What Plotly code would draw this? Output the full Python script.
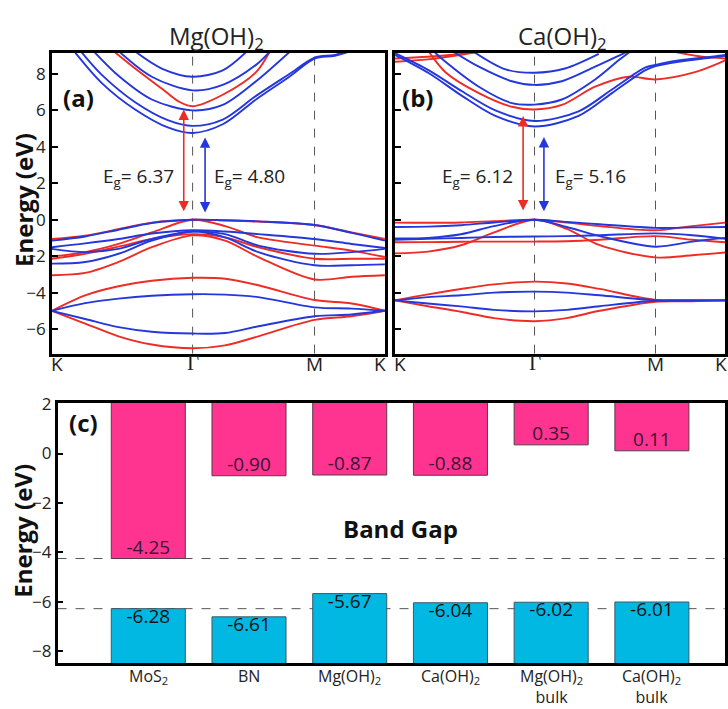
import plotly.graph_objects as go

W, H = 728, 709

# ---------------- data ----------------
# k-path K - Gamma - M - K (fractional path length)
K_PATH_VALS = [0.0, 0.4226, 0.7887, 1.0]
K_PATH_TEXT = ["K", "Γ", "M", "K"]
KPTS = [0.0, 0.1, 0.2, 0.3, 0.4226, 0.52, 0.62, 0.7887, 0.9, 1.0]

# Panel (a) Mg(OH)2 : valence + low bands (sampled on KPTS)
A_RED_VB = [
    [-1.06, -0.88, -0.52, -0.16, 0.00, -0.04, -0.10, -0.29, -0.70, -1.06],
    [-2.02, -1.78, -1.33, -0.70, 0.00, -0.35, -0.97, -1.42, -1.70, -2.05],
    [-2.14, -1.87, -1.48, -1.06, -0.79, -0.97, -1.51, -2.14, -2.14, -2.14],
    [-3.05, -2.92, -2.32, -1.51, -0.86, -1.15, -2.05, -3.28, -3.13, -3.05],
    [-5.00, -4.15, -3.65, -3.35, -3.19, -3.24, -3.60, -4.41, -4.60, -5.00],
    [-5.00, -5.70, -6.40, -6.85, -7.06, -6.90, -6.40, -5.50, -5.30, -5.00],
]
A_BLUE_VB = [
    [-1.15, -0.92, -0.55, -0.18, 0.00, -0.03, -0.09, -0.29, -0.72, -1.15],
    [-1.51, -1.30, -1.06, -0.76, -0.58, -0.65, -0.79, -1.06, -1.33, -1.55],
    [-1.60, -1.78, -1.60, -1.06, -0.65, -0.79, -1.42, -1.87, -1.78, -1.60],
    [-2.41, -2.32, -1.87, -1.15, -0.65, -0.97, -1.78, -2.50, -2.50, -2.45],
    [-5.00, -4.58, -4.33, -4.17, -4.09, -4.11, -4.25, -4.81, -4.88, -5.00],
    [-5.00, -5.45, -5.90, -6.15, -6.25, -6.22, -5.85, -5.30, -5.20, -5.00],
]
# Panel (a) conduction bands (own k samples)
A_BLUE_CB_K = [
    [0.069, 0.15, 0.25, 0.35, 0.4226, 0.513, 0.613, 0.713, 0.7887, 0.85, 0.92],
    [0.089, 0.15, 0.25, 0.35, 0.4226, 0.513, 0.613, 0.713, 0.7887, 0.85, 0.92],
    [0.128, 0.2, 0.3, 0.4226, 0.513, 0.613, 0.713],
    [0.204, 0.3, 0.4226, 0.513, 0.613, 0.653],
    [0.253, 0.33, 0.4226, 0.513, 0.583],
]
A_BLUE_CB_E = [
    [9.2, 7.5, 6.05, 5.05, 4.76, 5.24, 6.6, 7.85, 8.85, 9.0, 9.4],
    [9.2, 7.95, 6.45, 5.45, 5.15, 5.5, 6.8, 8.0, 8.9, 9.05, 9.45],
    [9.2, 7.9, 6.6, 6.0, 6.3, 7.6, 9.2],
    [9.2, 7.85, 7.1, 7.4, 8.5, 9.2],
    [9.2, 8.3, 7.85, 8.2, 9.2],
]
A_RED_CB_K = [[0.189, 0.25, 0.33, 0.38, 0.4226, 0.513, 0.613, 0.653]]
A_RED_CB_E = [[9.2, 8.3, 7.2, 6.5, 6.23, 6.86, 8.1, 9.2]]

# Panel (b) Ca(OH)2 : valence + low bands (sampled on KPTS)
B_RED_VB = [
    [-0.16, -0.17, -0.15, -0.08, 0.00, -0.15, -0.35, -0.58, -0.35, -0.16],
    [-1.24, -1.23, -1.21, -1.20, -1.20, -1.18, -1.10, -0.90, -1.10, -1.24],
    [-1.85, -1.75, -1.40, -0.70, 0.00, -0.50, -1.40, -2.07, -1.95, -1.80],
    [-4.43, -4.10, -3.80, -3.55, -3.40, -3.50, -3.80, -4.40, -4.42, -4.43],
    [-4.43, -4.75, -5.05, -5.40, -5.57, -5.40, -5.00, -4.50, -4.48, -4.43],
]
B_BLUE_VB = [
    [-0.40, -0.38, -0.30, -0.15, 0.00, -0.12, -0.25, -0.45, -0.42, -0.40],
    [-1.03, -1.00, -0.80, -0.35, 0.00, -0.40, -0.90, -1.48, -1.20, -1.00],
    [-1.10, -1.05, -1.00, -0.95, -0.92, -0.90, -0.85, -0.75, -0.85, -1.05],
    [-4.43, -4.25, -4.15, -4.00, -3.95, -4.00, -4.15, -4.42, -4.43, -4.43],
    [-4.43, -4.60, -4.76, -4.95, -5.03, -4.95, -4.75, -4.45, -4.44, -4.43],
]
B_BLUE_CB_K = [
    [0.0, 0.103, 0.203, 0.304, 0.4226, 0.556, 0.657, 0.757, 0.7887, 0.858, 0.958, 1.0],
    [0.0, 0.103, 0.203, 0.304, 0.4226, 0.556, 0.657, 0.757, 0.7887, 0.858, 0.958, 1.0],
    [0.12, 0.153, 0.254, 0.354, 0.4226, 0.505, 0.606, 0.677, 0.71],
    [0.17, 0.254, 0.354, 0.4226, 0.505, 0.606, 0.677, 0.70],
    [0.24, 0.335, 0.4226, 0.515, 0.617],
]
B_BLUE_CB_E = [
    [9.05, 8.04, 6.8, 5.7, 5.12, 5.7, 6.95, 8.2, 8.43, 8.67, 8.9, 9.0],
    [9.15, 8.2, 7.05, 6.0, 5.42, 5.95, 7.15, 8.35, 8.5, 8.75, 8.95, 9.05],
    [9.2, 8.67, 7.3, 6.4, 6.32, 6.6, 7.7, 8.75, 9.2],
    [9.3, 8.4, 7.6, 7.4, 7.6, 8.4, 9.0, 9.2],
    [9.2, 8.25, 8.07, 8.3, 9.1],
]
B_RED_CB_K = [
    [0.1, 0.153, 0.254, 0.354, 0.4226, 0.505, 0.606, 0.707, 0.7887, 0.908, 1.0],
    [0.0, 0.1, 0.2, 0.3],
    [0.0, 0.1, 0.2, 0.25],
    [0.85, 0.93, 1.0],
]
B_RED_CB_E = [
    [9.3, 8.1, 6.95, 6.2, 6.05, 6.3, 7.3, 7.85, 7.7, 8.1, 8.75],
    [8.85, 8.95, 9.1, 9.3],
    [8.67, 8.8, 9.05, 9.2],
    [9.2, 8.95, 8.85],
]

GAP_A = ["6.37", "4.80"]
GAP_B = ["6.12", "5.16"]

# Panel (c) band edges
CATEGORIES = ["MoS<sub>2</sub>", "BN", "Mg(OH)<sub>2</sub>", "Ca(OH)<sub>2</sub>",
              "Mg(OH)<sub>2</sub><br>bulk", "Ca(OH)<sub>2</sub><br>bulk"]
CBM = [-4.25, -0.90, -0.87, -0.88, 0.35, 0.11]
VBM = [-6.28, -6.61, -5.67, -6.04, -6.02, -6.01]

# ---------------- style ----------------
RED = "#EE2B24"
BLUE = "#2437DC"
PINK = "#FF3390"
CYAN = "#00B8E2"
FONT = "Open Sans"
SERIF = "Liberation Serif"
TXT = "#222222"


def PX(x):
    return x / W


def PY(y):
    return 1 - y / H


fig = go.Figure()


def add_band(k, e, color, xa, ya):
    fig.add_trace(go.Scatter(
        x=k, y=e, mode="lines",
        line=dict(color=color, width=1.9, shape="spline", smoothing=0.9),
        xaxis=xa, yaxis=ya, hoverinfo="skip", showlegend=False))


# panel a
for e in A_RED_VB:
    add_band(KPTS, e, RED, "x", "y")
for k, e in zip(A_RED_CB_K, A_RED_CB_E):
    add_band(k, e, RED, "x", "y")
for e in A_BLUE_VB:
    add_band(KPTS, e, BLUE, "x", "y")
for k, e in zip(A_BLUE_CB_K, A_BLUE_CB_E):
    add_band(k, e, BLUE, "x", "y")
# panel b
for e in B_RED_VB:
    add_band(KPTS, e, RED, "x2", "y2")
for k, e in zip(B_RED_CB_K, B_RED_CB_E):
    add_band(k, e, RED, "x2", "y2")
for e in B_BLUE_VB:
    add_band(KPTS, e, BLUE, "x2", "y2")
for k, e in zip(B_BLUE_CB_K, B_BLUE_CB_E):
    add_band(k, e, BLUE, "x2", "y2")

# panel c bars
idx = list(range(len(CATEGORIES)))
BAR_TOP, BAR_BOTTOM = 3.0, -10.0
fig.add_trace(go.Bar(
    x=idx, y=[BAR_TOP - c for c in CBM], base=CBM, width=0.735,
    marker=dict(color=PINK, line=dict(color="#5a3a48", width=1)),
    xaxis="x3", yaxis="y3", hoverinfo="skip", showlegend=False))
fig.add_trace(go.Bar(
    x=idx, y=[v - BAR_BOTTOM for v in VBM], base=[BAR_BOTTOM] * len(VBM), width=0.735,
    marker=dict(color=CYAN, line=dict(color="#3a5a66", width=1)),
    xaxis="x3", yaxis="y3", hoverinfo="skip", showlegend=False))
fig.add_trace(go.Scatter(
    x=idx, y=CBM, mode="text", text=[f"{v:.2f}" for v in CBM],
    textposition="top center", textfont=dict(family=FONT, size=19, color="#3a1530"),
    xaxis="x3", yaxis="y3", hoverinfo="skip", showlegend=False))
fig.add_trace(go.Scatter(
    x=idx, y=VBM, mode="text", text=[f"{v:.2f}" for v in VBM],
    textposition="bottom center", textfont=dict(family=FONT, size=19, color="#111111"),
    xaxis="x3", yaxis="y3", hoverinfo="skip", showlegend=False))

# ---------------- axes ----------------
A_X = [PX(52), PX(386)]
B_X = [PX(396), PX(727.3)]
AB_Y = [PY(348), PY(42.7)]
C_X = [PX(57.7), PX(726.7)]
C_Y = [PY(662.3), PY(398.3)]

frame = dict(showline=True, mirror=True, linecolor="black", linewidth=2.5,
             showgrid=False, zeroline=False)
ytick_ab = dict(tickvals=[-6, -4, -2, 0, 2, 4, 6, 8], ticks="inside", ticklen=6,
                tickwidth=2, tickcolor="black")

fig.update_layout(
    width=W, height=H, margin=dict(l=0, r=0, t=0, b=0),
    paper_bgcolor="white", plot_bgcolor="white", showlegend=False,
    barmode="overlay",
    font=dict(family=FONT, size=16, color=TXT),
    xaxis=dict(domain=A_X, range=[0, 1], anchor="y", **frame, showticklabels=False, ticks=""),
    yaxis=dict(domain=AB_Y, range=[-7.35, 9.15], anchor="x", **frame, **ytick_ab,
               tickfont=dict(family=FONT, size=17, color=TXT)),
    xaxis2=dict(domain=B_X, range=[0, 1], anchor="y2", **frame, showticklabels=False, ticks=""),
    yaxis2=dict(domain=AB_Y, range=[-7.35, 9.15], anchor="x2", **frame, **ytick_ab,
                showticklabels=False),
    xaxis3=dict(domain=C_X, range=[-0.901, 5.723], anchor="y3", **frame,
                showticklabels=False, ticks=""),
    yaxis3=dict(domain=C_Y, range=[-8.48, 2.04], anchor="x3", **frame,
                tickvals=[-8, -6, -4, -2, 0, 2], ticks="inside", ticklen=6,
                tickwidth=2, tickcolor="black",
                tickfont=dict(family=FONT, size=17, color=TXT)),
)

# ---------------- shapes ----------------
shapes = []
for xa, ya in (("x", "y"), ("x2", "y2")):
    for kv in K_PATH_VALS[1:3]:
        shapes.append(dict(type="line", xref=xa, yref=ya + " domain", x0=kv, x1=kv,
                           y0=0, y1=1, layer="below",
                           line=dict(color="#555555", width=1, dash="dash")))
for ref in (CBM[0], VBM[0]):
    shapes.append(dict(type="line", xref="x3 domain", yref="y3", x0=0, x1=1,
                       y0=ref, y1=ref, layer="below",
                       line=dict(color="#555555", width=1, dash="dash")))
fig.update_layout(shapes=shapes)

# ---------------- annotations ----------------
ann = []


def ptext(text, x, y, size, bold=False, angle=0, color=TXT):
    ann.append(dict(text=f"<b>{text}</b>" if bold else text, x=PX(x), y=PY(y),
                    xref="paper", yref="paper", showarrow=False, textangle=angle,
                    xanchor="center", yanchor="middle",
                    font=dict(family=FONT, size=size, color=color)))


ptext("Mg(OH)<sub>2</sub>", 216.7, 26, 24)
ptext("Ca(OH)<sub>2</sub>", 564, 26, 24)
ptext("(a)", 78.5, 88, 24, bold=True, color="#111")
ptext("(b)", 419, 88, 24, bold=True, color="#111")
ptext("(c)", 84, 418, 24, bold=True, color="#111")
ptext("Energy (eV)", 23, 192, 24, bold=True, angle=-90, color="#111")
ptext("Energy (eV)", 23, 528, 24, bold=True, angle=-90, color="#111")
ptext("Band Gap", 402, 526, 24, bold=True, color="#111")

# k-path labels under panels a and b (end labels nudged inside the frame)
K_LABEL_NUDGE = [0.014, 0.0, 0.0, -0.014]
for xa in ("x", "x2"):
    for kv, nudge, lab in zip(K_PATH_VALS, K_LABEL_NUDGE, K_PATH_TEXT):
        is_gamma = lab == "Γ"
        ann.append(dict(text=lab, x=kv + nudge, y=PY(343), xref=xa, yref="paper",
                        showarrow=False, xanchor="center", yanchor="top",
                        font=dict(family=SERIF if is_gamma else FONT,
                                  size=21 if is_gamma else 19, color=TXT)))

# category labels under panel c
for i, lab in zip(idx, CATEGORIES):
    ann.append(dict(text=lab, x=i, y=PY(662), xref="x3", yref="paper",
                    showarrow=False, xanchor="center", yanchor="top",
                    font=dict(family=FONT, size=16, color=TXT)))


def arrow(xa, ya, x, y0, y1, color):
    ann.append(dict(text="", x=x, y=y1, ax=x, ay=y0, xref=xa, yref=ya,
                    axref=xa, ayref=ya, showarrow=True, arrowhead=2,
                    startarrowhead=2, arrowside="end+start", arrowsize=1.3,
                    arrowwidth=1.6, arrowcolor=color, standoff=0, startstandoff=0))


arrow("x", "y", 0.396, 0.38, 6.05, RED)
arrow("x", "y", 0.460, 0.32, 4.52, BLUE)
arrow("x2", "y2", 0.388, 0.43, 5.69, RED)
arrow("x2", "y2", 0.451, 0.38, 4.54, BLUE)


def dtext(xa, ya, text, x, y):
    ann.append(dict(text=text, x=x, y=y, xref=xa, yref=ya, showarrow=False,
                    xanchor="center", yanchor="middle",
                    font=dict(family=FONT, size=19, color=TXT)))


dtext("x", "y", "E<sub>g</sub>= " + GAP_A[0], 0.26, 2.35)
dtext("x", "y", "E<sub>g</sub>= " + GAP_A[1], 0.593, 2.35)
dtext("x2", "y2", "E<sub>g</sub>= " + GAP_B[0], 0.25, 2.35)
dtext("x2", "y2", "E<sub>g</sub>= " + GAP_B[1], 0.592, 2.35)

fig.update_layout(annotations=ann)

fig.write_html("out.html",
               config={"displayModeBar": False},
               post_script="document.body.style.margin='0px';"
                           "document.body.style.overflow='hidden';")
